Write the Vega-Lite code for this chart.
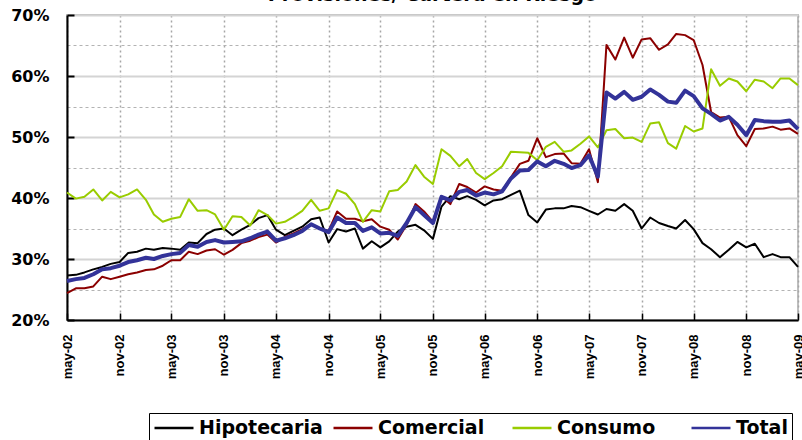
{
  "$schema": "https://vega.github.io/schema/vega-lite/v6.json",
  "width": 731,
  "height": 305,
  "autosize": {"type": "none"},
  "padding": {"left": 67, "top": 15, "right": 4, "bottom": 120},
  "background": "white",
  "title": {"text": "Provisiones/ Cartera en Riesgo", "font": "DejaVu Sans", "fontWeight": "bold", "fontSize": 19, "anchor": "middle", "frame": "group", "offset": 6, "dy": 4, "color": "black"},
  "config": {"view": {"stroke": "#bfbfbf", "strokeWidth": 2}},
  "data": {"values": [
    {"fecha": "2002-05-01", "Hipotecaria": 27.3, "Comercial": 24.4, "Consumo": 40.9, "Total": 26.4},
    {"fecha": "2002-06-01", "Hipotecaria": 27.4, "Comercial": 25.2, "Consumo": 39.9, "Total": 26.7},
    {"fecha": "2002-07-01", "Hipotecaria": 27.8, "Comercial": 25.2, "Consumo": 40.2, "Total": 26.9},
    {"fecha": "2002-08-01", "Hipotecaria": 28.3, "Comercial": 25.5, "Consumo": 41.4, "Total": 27.5},
    {"fecha": "2002-09-01", "Hipotecaria": 28.7, "Comercial": 27.1, "Consumo": 39.6, "Total": 28.3},
    {"fecha": "2002-10-01", "Hipotecaria": 29.2, "Comercial": 26.7, "Consumo": 41.0, "Total": 28.5},
    {"fecha": "2002-11-01", "Hipotecaria": 29.5, "Comercial": 27.1, "Consumo": 40.1, "Total": 28.9},
    {"fecha": "2002-12-01", "Hipotecaria": 31.0, "Comercial": 27.5, "Consumo": 40.6, "Total": 29.5},
    {"fecha": "2003-01-01", "Hipotecaria": 31.2, "Comercial": 27.8, "Consumo": 41.4, "Total": 29.8},
    {"fecha": "2003-02-01", "Hipotecaria": 31.7, "Comercial": 28.2, "Consumo": 39.7, "Total": 30.2},
    {"fecha": "2003-03-01", "Hipotecaria": 31.5, "Comercial": 28.3, "Consumo": 37.3, "Total": 30.0},
    {"fecha": "2003-04-01", "Hipotecaria": 31.8, "Comercial": 28.9, "Consumo": 36.1, "Total": 30.5},
    {"fecha": "2003-05-01", "Hipotecaria": 31.7, "Comercial": 29.8, "Consumo": 36.6, "Total": 30.8},
    {"fecha": "2003-06-01", "Hipotecaria": 31.5, "Comercial": 29.8, "Consumo": 36.9, "Total": 31.0},
    {"fecha": "2003-07-01", "Hipotecaria": 32.7, "Comercial": 31.2, "Consumo": 39.8, "Total": 32.3},
    {"fecha": "2003-08-01", "Hipotecaria": 32.6, "Comercial": 30.8, "Consumo": 37.9, "Total": 32.0},
    {"fecha": "2003-09-01", "Hipotecaria": 34.1, "Comercial": 31.4, "Consumo": 38.0, "Total": 32.8},
    {"fecha": "2003-10-01", "Hipotecaria": 34.8, "Comercial": 31.6, "Consumo": 37.3, "Total": 33.1},
    {"fecha": "2003-11-01", "Hipotecaria": 35.0, "Comercial": 30.7, "Consumo": 34.8, "Total": 32.7},
    {"fecha": "2003-12-01", "Hipotecaria": 33.9, "Comercial": 31.5, "Consumo": 37.0, "Total": 32.8},
    {"fecha": "2004-01-01", "Hipotecaria": 34.8, "Comercial": 32.6, "Consumo": 36.9, "Total": 32.9},
    {"fecha": "2004-02-01", "Hipotecaria": 35.6, "Comercial": 33.0, "Consumo": 35.5, "Total": 33.4},
    {"fecha": "2004-03-01", "Hipotecaria": 36.7, "Comercial": 33.6, "Consumo": 38.0, "Total": 34.0},
    {"fecha": "2004-04-01", "Hipotecaria": 37.2, "Comercial": 34.0, "Consumo": 37.2, "Total": 34.5},
    {"fecha": "2004-05-01", "Hipotecaria": 34.8, "Comercial": 32.7, "Consumo": 35.8, "Total": 33.0},
    {"fecha": "2004-06-01", "Hipotecaria": 33.9, "Comercial": 33.6, "Consumo": 36.1, "Total": 33.4},
    {"fecha": "2004-07-01", "Hipotecaria": 34.6, "Comercial": 34.2, "Consumo": 36.9, "Total": 33.9},
    {"fecha": "2004-08-01", "Hipotecaria": 35.3, "Comercial": 34.9, "Consumo": 37.9, "Total": 34.6},
    {"fecha": "2004-09-01", "Hipotecaria": 36.5, "Comercial": 35.7, "Consumo": 39.7, "Total": 35.7},
    {"fecha": "2004-10-01", "Hipotecaria": 36.8, "Comercial": 35.0, "Consumo": 37.9, "Total": 35.0},
    {"fecha": "2004-11-01", "Hipotecaria": 32.7, "Comercial": 34.6, "Consumo": 38.3, "Total": 34.4},
    {"fecha": "2004-12-01", "Hipotecaria": 34.9, "Comercial": 37.8, "Consumo": 41.3, "Total": 36.8},
    {"fecha": "2005-01-01", "Hipotecaria": 34.5, "Comercial": 36.6, "Consumo": 40.7, "Total": 35.9},
    {"fecha": "2005-02-01", "Hipotecaria": 35.0, "Comercial": 36.6, "Consumo": 39.0, "Total": 35.9},
    {"fecha": "2005-03-01", "Hipotecaria": 31.7, "Comercial": 36.2, "Consumo": 36.1, "Total": 34.6},
    {"fecha": "2005-04-01", "Hipotecaria": 32.9, "Comercial": 36.5, "Consumo": 38.0, "Total": 35.2},
    {"fecha": "2005-05-01", "Hipotecaria": 31.9, "Comercial": 35.3, "Consumo": 37.8, "Total": 34.2},
    {"fecha": "2005-06-01", "Hipotecaria": 32.9, "Comercial": 34.8, "Consumo": 41.1, "Total": 34.3},
    {"fecha": "2005-07-01", "Hipotecaria": 34.5, "Comercial": 33.2, "Consumo": 41.3, "Total": 33.8},
    {"fecha": "2005-08-01", "Hipotecaria": 35.3, "Comercial": 35.6, "Consumo": 42.7, "Total": 35.9},
    {"fecha": "2005-09-01", "Hipotecaria": 35.6, "Comercial": 39.0, "Consumo": 45.4, "Total": 38.5},
    {"fecha": "2005-10-01", "Hipotecaria": 34.7, "Comercial": 37.8, "Consumo": 43.5, "Total": 37.2},
    {"fecha": "2005-11-01", "Hipotecaria": 33.3, "Comercial": 36.1, "Consumo": 42.3, "Total": 35.9},
    {"fecha": "2005-12-01", "Hipotecaria": 38.6, "Comercial": 40.3, "Consumo": 48.0, "Total": 40.2},
    {"fecha": "2006-01-01", "Hipotecaria": 40.3, "Comercial": 39.0, "Consumo": 46.9, "Total": 39.6},
    {"fecha": "2006-02-01", "Hipotecaria": 39.8, "Comercial": 42.3, "Consumo": 45.2, "Total": 41.0},
    {"fecha": "2006-03-01", "Hipotecaria": 40.3, "Comercial": 41.8, "Consumo": 46.4, "Total": 41.3},
    {"fecha": "2006-04-01", "Hipotecaria": 39.7, "Comercial": 40.9, "Consumo": 44.1, "Total": 40.4},
    {"fecha": "2006-05-01", "Hipotecaria": 38.8, "Comercial": 41.9, "Consumo": 43.1, "Total": 40.9},
    {"fecha": "2006-06-01", "Hipotecaria": 39.6, "Comercial": 41.4, "Consumo": 44.1, "Total": 40.6},
    {"fecha": "2006-07-01", "Hipotecaria": 39.8, "Comercial": 41.2, "Consumo": 45.2, "Total": 41.1},
    {"fecha": "2006-08-01", "Hipotecaria": 40.5, "Comercial": 43.4, "Consumo": 47.6, "Total": 43.2},
    {"fecha": "2006-09-01", "Hipotecaria": 41.2, "Comercial": 45.6, "Consumo": 47.5, "Total": 44.5},
    {"fecha": "2006-10-01", "Hipotecaria": 37.2, "Comercial": 46.1, "Consumo": 47.4, "Total": 44.6},
    {"fecha": "2006-11-01", "Hipotecaria": 36.0, "Comercial": 49.8, "Consumo": 46.2, "Total": 46.0},
    {"fecha": "2006-12-01", "Hipotecaria": 38.1, "Comercial": 46.7, "Consumo": 48.4, "Total": 45.2},
    {"fecha": "2007-01-01", "Hipotecaria": 38.3, "Comercial": 47.2, "Consumo": 49.2, "Total": 46.1},
    {"fecha": "2007-02-01", "Hipotecaria": 38.3, "Comercial": 47.3, "Consumo": 47.6, "Total": 45.6},
    {"fecha": "2007-03-01", "Hipotecaria": 38.7, "Comercial": 45.7, "Consumo": 47.8, "Total": 44.9},
    {"fecha": "2007-04-01", "Hipotecaria": 38.5, "Comercial": 45.6, "Consumo": 48.9, "Total": 45.4},
    {"fecha": "2007-05-01", "Hipotecaria": 37.9, "Comercial": 48.0, "Consumo": 50.1, "Total": 47.0},
    {"fecha": "2007-06-01", "Hipotecaria": 37.3, "Comercial": 42.6, "Consumo": 48.3, "Total": 43.5},
    {"fecha": "2007-07-01", "Hipotecaria": 38.2, "Comercial": 65.1, "Consumo": 51.1, "Total": 57.3},
    {"fecha": "2007-08-01", "Hipotecaria": 37.9, "Comercial": 62.7, "Consumo": 51.3, "Total": 56.3},
    {"fecha": "2007-09-01", "Hipotecaria": 39.0, "Comercial": 66.3, "Consumo": 49.8, "Total": 57.4},
    {"fecha": "2007-10-01", "Hipotecaria": 37.9, "Comercial": 63.0, "Consumo": 49.9, "Total": 56.1},
    {"fecha": "2007-11-01", "Hipotecaria": 35.0, "Comercial": 66.0, "Consumo": 49.2, "Total": 56.6},
    {"fecha": "2007-12-01", "Hipotecaria": 36.8, "Comercial": 66.2, "Consumo": 52.2, "Total": 57.8},
    {"fecha": "2008-01-01", "Hipotecaria": 35.9, "Comercial": 64.3, "Consumo": 52.4, "Total": 56.9},
    {"fecha": "2008-02-01", "Hipotecaria": 35.4, "Comercial": 65.2, "Consumo": 49.0, "Total": 55.8},
    {"fecha": "2008-03-01", "Hipotecaria": 35.0, "Comercial": 66.9, "Consumo": 48.1, "Total": 55.6},
    {"fecha": "2008-04-01", "Hipotecaria": 36.4, "Comercial": 66.7, "Consumo": 51.8, "Total": 57.6},
    {"fecha": "2008-05-01", "Hipotecaria": 34.9, "Comercial": 65.9, "Consumo": 50.9, "Total": 56.7},
    {"fecha": "2008-06-01", "Hipotecaria": 32.6, "Comercial": 61.8, "Consumo": 51.4, "Total": 54.7},
    {"fecha": "2008-07-01", "Hipotecaria": 31.6, "Comercial": 54.1, "Consumo": 61.1, "Total": 53.8},
    {"fecha": "2008-08-01", "Hipotecaria": 30.3, "Comercial": 53.2, "Consumo": 58.4, "Total": 52.7},
    {"fecha": "2008-09-01", "Hipotecaria": 31.5, "Comercial": 53.3, "Consumo": 59.6, "Total": 53.3},
    {"fecha": "2008-10-01", "Hipotecaria": 32.8, "Comercial": 50.3, "Consumo": 59.1, "Total": 52.0},
    {"fecha": "2008-11-01", "Hipotecaria": 31.9, "Comercial": 48.5, "Consumo": 57.5, "Total": 50.3},
    {"fecha": "2008-12-01", "Hipotecaria": 32.5, "Comercial": 51.3, "Consumo": 59.4, "Total": 52.8},
    {"fecha": "2009-01-01", "Hipotecaria": 30.3, "Comercial": 51.4, "Consumo": 59.1, "Total": 52.6},
    {"fecha": "2009-02-01", "Hipotecaria": 30.8, "Comercial": 51.7, "Consumo": 58.0, "Total": 52.5},
    {"fecha": "2009-03-01", "Hipotecaria": 30.3, "Comercial": 51.2, "Consumo": 59.6, "Total": 52.5},
    {"fecha": "2009-04-01", "Hipotecaria": 30.3, "Comercial": 51.4, "Consumo": 59.6, "Total": 52.7},
    {"fecha": "2009-05-01", "Hipotecaria": 28.7, "Comercial": 50.5, "Consumo": 58.5, "Total": 51.3}
  ]},
  "transform": [{"fold": ["Hipotecaria", "Comercial", "Consumo", "Total"], "as": ["serie", "valor"]}],
  "mark": {"type": "line", "strokeJoin": "round"},
  "encoding": {
    "x": {
      "field": "fecha", "type": "temporal",
      "scale": {"type": "utc", "domain": [{"year": 2002, "month": 5, "date": 1, "utc": true}, {"year": 2009, "month": 5, "date": 1, "utc": true}]},
      "axis": {
        "title": null,
        "values": [
          {"year": 2002, "month": 5, "date": 1, "utc": true}, {"year": 2002, "month": 11, "date": 1, "utc": true},
          {"year": 2003, "month": 5, "date": 1, "utc": true}, {"year": 2003, "month": 11, "date": 1, "utc": true},
          {"year": 2004, "month": 5, "date": 1, "utc": true}, {"year": 2004, "month": 11, "date": 1, "utc": true},
          {"year": 2005, "month": 5, "date": 1, "utc": true}, {"year": 2005, "month": 11, "date": 1, "utc": true},
          {"year": 2006, "month": 5, "date": 1, "utc": true}, {"year": 2006, "month": 11, "date": 1, "utc": true},
          {"year": 2007, "month": 5, "date": 1, "utc": true}, {"year": 2007, "month": 11, "date": 1, "utc": true},
          {"year": 2008, "month": 5, "date": 1, "utc": true}, {"year": 2008, "month": 11, "date": 1, "utc": true},
          {"year": 2009, "month": 5, "date": 1, "utc": true}
        ],
        "labelExpr": "lower(utcFormat(datum.value, '%b-%y'))",
        "labelAngle": -90,
        "labelFont": "Liberation Sans", "labelFontWeight": "bold", "labelFontSize": 13, "labelColor": "black",
        "labelPadding": 21, "labelOverlap": false, "labelFlush": false, "labelBound": false,
        "ticks": true, "tickSize": -7, "tickColor": "black", "tickWidth": 1.5,
        "domainColor": "black", "domainWidth": 2,
        "grid": true, "gridDash": [2, 3], "gridColor": "#a6a6a6", "gridWidth": 1.5
      }
    },
    "y": {
      "field": "valor", "type": "quantitative",
      "scale": {"domain": [20, 70], "nice": false, "zero": false},
      "axis": {
        "title": null,
        "values": [20, 25, 30, 35, 40, 45, 50, 55, 60, 65, 70],
        "labelExpr": "datum.value % 10 == 0 ? datum.value + '%' : ''",
        "labelFont": "DejaVu Sans", "labelFontWeight": "bold", "labelFontSize": 16, "labelColor": "black",
        "labelPadding": 25, "labelOverlap": false, "labelFlush": false,
        "ticks": true, "tickSize": -7, "tickColor": "black", "tickWidth": 2,
        "tickOpacity": {"condition": {"test": "datum.value % 10 != 0", "value": 0}, "value": 1},
        "domainColor": "black", "domainWidth": 2,
        "grid": true,
        "gridColor": {"condition": {"test": "datum.value % 10 != 0", "value": "#b3b3b3"}, "value": "#d4d4d4"},
        "gridDash": {"condition": {"test": "datum.value % 10 != 0", "value": [3, 3]}, "value": []},
        "gridWidth": {"condition": {"test": "datum.value % 10 != 0", "value": 1}, "value": 2}
      }
    },
    "color": {
      "field": "serie", "type": "nominal",
      "scale": {"domain": ["Hipotecaria", "Comercial", "Consumo", "Total"], "range": ["#000000", "#8b0000", "#99cc00", "#333399"]},
      "legend": {"orient": "none", "legendX": 82, "legendY": 398, "direction": "horizontal", "title": null,
        "symbolType": "M-2,0H2", "symbolSize": 380, "symbolOffset": 10, "symbolStrokeWidth": 2.5,
        "labelFont": "DejaVu Sans", "labelFontWeight": "bold",
        "labelFontSize": 19, "labelColor": "black", "labelOffset": 14, "columnPadding": 5,
        "gridAlign": "all",
        "strokeColor": "black", "padding": 4, "labelLimit": 300}
    },
    "strokeWidth": {
      "condition": {"test": "datum.serie == 'Total'", "value": 4},
      "value": 2
    }
  }
}
